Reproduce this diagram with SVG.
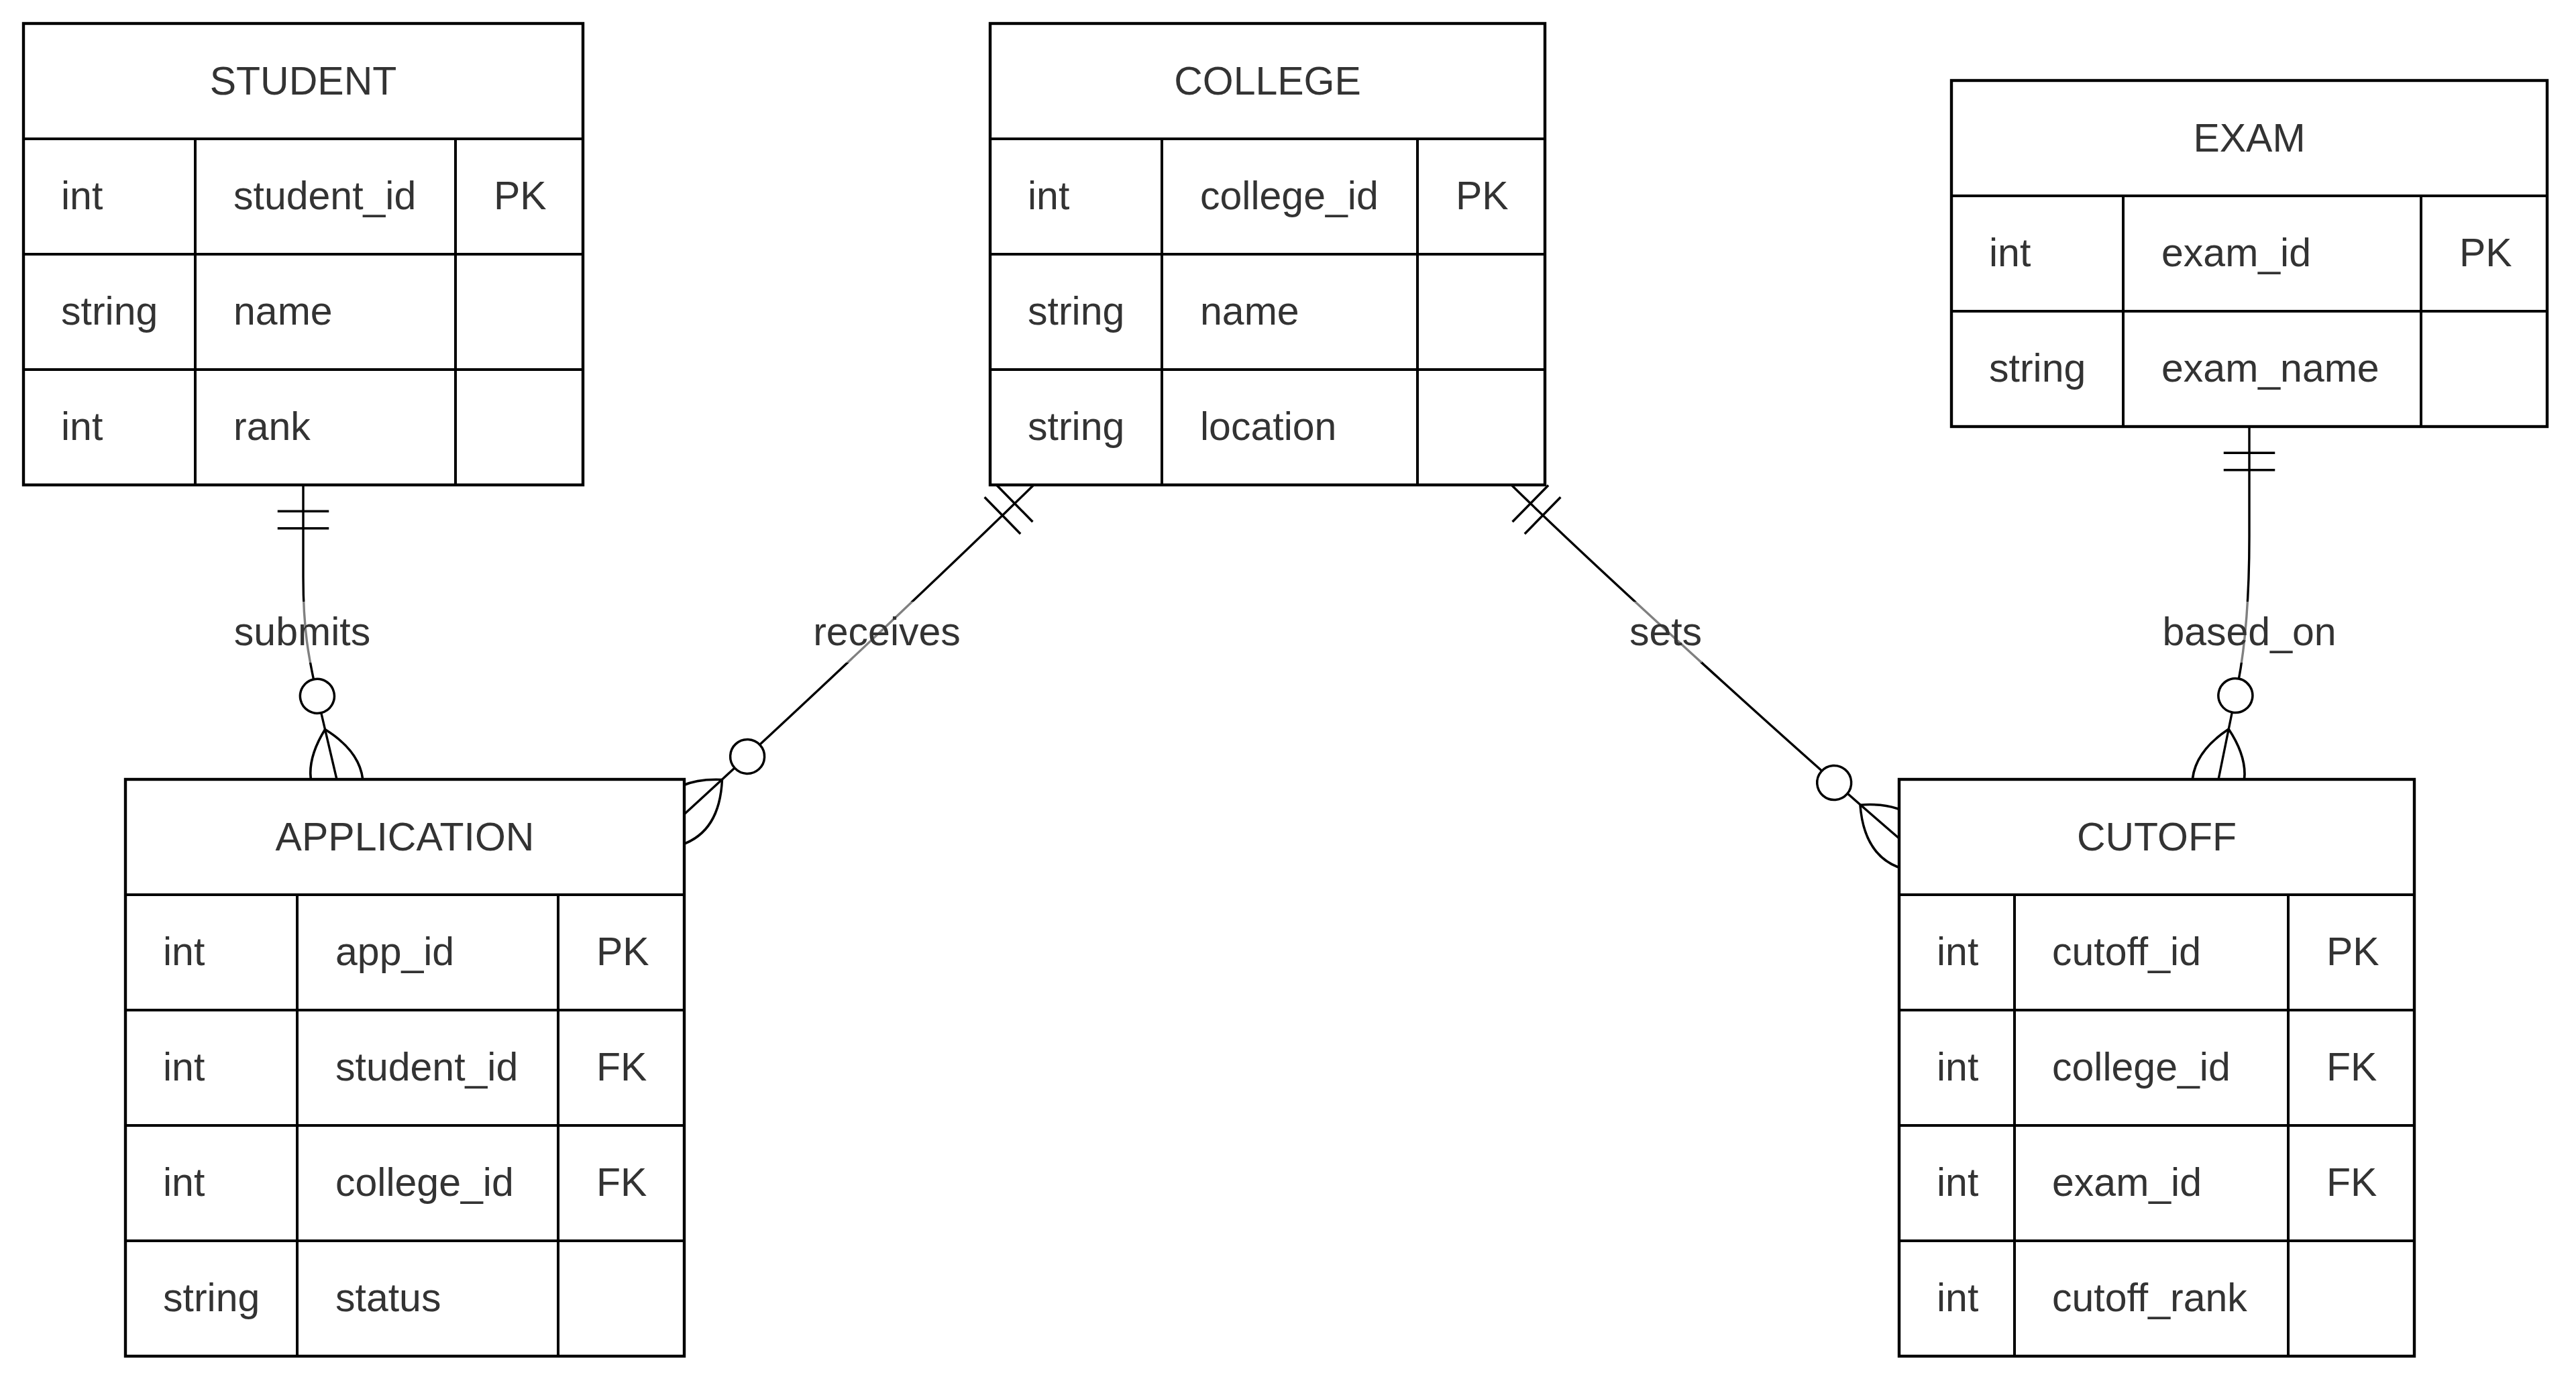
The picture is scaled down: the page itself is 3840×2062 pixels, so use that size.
<svg xmlns="http://www.w3.org/2000/svg" width="3840" height="2062" viewBox="0 0 3840 2062">
<style>
.box{fill:#fff;stroke:#000;stroke-width:4.4}
.grid{fill:none;stroke:#000;stroke-width:4}
.t{font-family:"Liberation Sans",Arial,Helvetica,sans-serif;font-size:59px;fill:#333}
.h{text-anchor:middle}
.edge{fill:none;stroke:#000;stroke-width:3.4}
.lbg{fill:#fff;opacity:0.5}
.lbl{font-family:"Liberation Sans",Arial,Helvetica,sans-serif;font-size:59px;fill:#333;text-anchor:middle}
</style>
<defs>
<marker id="oneStart" markerUnits="userSpaceOnUse" viewBox="0 0 18 18" markerWidth="76.5" markerHeight="76.5" refX="0" refY="9" orient="auto" overflow="visible">
<path d="M9,0 L9,18 M15,0 L15,18" fill="none" stroke="#000" stroke-width="0.82"/>
</marker>
<marker id="zeroManyEnd" markerUnits="userSpaceOnUse" viewBox="0 0 57 36" markerWidth="242.25" markerHeight="153" refX="39" refY="18" orient="auto" overflow="visible">
<circle cx="9" cy="18" r="6" fill="#fff" stroke="#000" stroke-width="0.82"/>
<path d="M21,18 Q39,0 57,18 Q39,36 21,18" fill="none" stroke="#000" stroke-width="0.82"/>
</marker>
</defs>
<rect x="0" y="0" width="3840" height="2062" fill="#fff"/>

<g id="connectors">
<path class="edge" marker-start="url(#oneStart)" marker-end="url(#zeroManyEnd)" d="M452,724 L452,860 C452,940 460,980 472,1034 L502,1162"/>
<path class="edge" marker-start="url(#oneStart)" marker-end="url(#zeroManyEnd)" d="M1540,724 C1400,861 1160,1086 1020,1214"/>
<path class="edge" marker-start="url(#oneStart)" marker-end="url(#zeroManyEnd)" d="M2254,724 C2394,861 2691,1130 2831,1250"/>
<path class="edge" marker-start="url(#oneStart)" marker-end="url(#zeroManyEnd)" d="M3353,637 L3353,800 C3353,900 3345,980 3333,1034 L3307,1162"/>
<rect class="lbg" x="349" y="897" width="203" height="91"/>
<text class="lbl" x="450.5" y="962">submits</text>
<rect class="lbg" x="1212" y="897" width="220" height="91"/>
<text class="lbl" x="1322" y="962">receives</text>
<rect class="lbg" x="2429" y="897" width="108" height="91"/>
<text class="lbl" x="2483" y="962">sets</text>
<rect class="lbg" x="3223" y="897" width="260" height="91"/>
<text class="lbl" x="3353" y="962">based_on</text>
</g>

<g id="student">
<rect class="box" x="35" y="35" width="834" height="688"/>
<path class="grid" d="M35,207H869M35,379H869M35,551H869M291,207V723M679,207V723"/>
<text class="t h" x="452" y="141">STUDENT</text>
<text class="t" x="91" y="312">int</text><text class="t" x="348" y="312">student_id</text><text class="t" x="736" y="312">PK</text>
<text class="t" x="91" y="484">string</text><text class="t" x="348" y="484">name</text>
<text class="t" x="91" y="656">int</text><text class="t" x="348" y="656">rank</text>
</g>

<g id="college">
<rect class="box" x="1476" y="35" width="827" height="688"/>
<path class="grid" d="M1476,207H2303M1476,379H2303M1476,551H2303M1732,207V723M2113,207V723"/>
<text class="t h" x="1889.5" y="141">COLLEGE</text>
<text class="t" x="1532" y="312">int</text><text class="t" x="1789" y="312">college_id</text><text class="t" x="2170" y="312">PK</text>
<text class="t" x="1532" y="484">string</text><text class="t" x="1789" y="484">name</text>
<text class="t" x="1532" y="656">string</text><text class="t" x="1789" y="656">location</text>
</g>

<g id="exam">
<rect class="box" x="2909" y="120" width="888" height="516"/>
<path class="grid" d="M2909,292H3797M2909,464H3797M3165,292V636M3609,292V636"/>
<text class="t h" x="3353" y="226">EXAM</text>
<text class="t" x="2965" y="397">int</text><text class="t" x="3222" y="397">exam_id</text><text class="t" x="3666" y="397">PK</text>
<text class="t" x="2965" y="569">string</text><text class="t" x="3222" y="569">exam_name</text>
</g>

<g id="application">
<rect class="box" x="187" y="1162" width="833" height="860"/>
<path class="grid" d="M187,1334H1020M187,1506H1020M187,1678H1020M187,1850H1020M443,1334V2022M832,1334V2022"/>
<text class="t h" x="603.5" y="1268">APPLICATION</text>
<text class="t" x="243" y="1439">int</text><text class="t" x="500" y="1439">app_id</text><text class="t" x="889" y="1439">PK</text>
<text class="t" x="243" y="1611">int</text><text class="t" x="500" y="1611">student_id</text><text class="t" x="889" y="1611">FK</text>
<text class="t" x="243" y="1783">int</text><text class="t" x="500" y="1783">college_id</text><text class="t" x="889" y="1783">FK</text>
<text class="t" x="243" y="1955">string</text><text class="t" x="500" y="1955">status</text>
</g>

<g id="cutoff">
<rect class="box" x="2831" y="1162" width="768" height="860"/>
<path class="grid" d="M2831,1334H3599M2831,1506H3599M2831,1678H3599M2831,1850H3599M3003,1334V2022M3411,1334V2022"/>
<text class="t h" x="3215" y="1268">CUTOFF</text>
<text class="t" x="2887" y="1439">int</text><text class="t" x="3059" y="1439">cutoff_id</text><text class="t" x="3468" y="1439">PK</text>
<text class="t" x="2887" y="1611">int</text><text class="t" x="3059" y="1611">college_id</text><text class="t" x="3468" y="1611">FK</text>
<text class="t" x="2887" y="1783">int</text><text class="t" x="3059" y="1783">exam_id</text><text class="t" x="3468" y="1783">FK</text>
<text class="t" x="2887" y="1955">int</text><text class="t" x="3059" y="1955">cutoff_rank</text>
</g>
</svg>
